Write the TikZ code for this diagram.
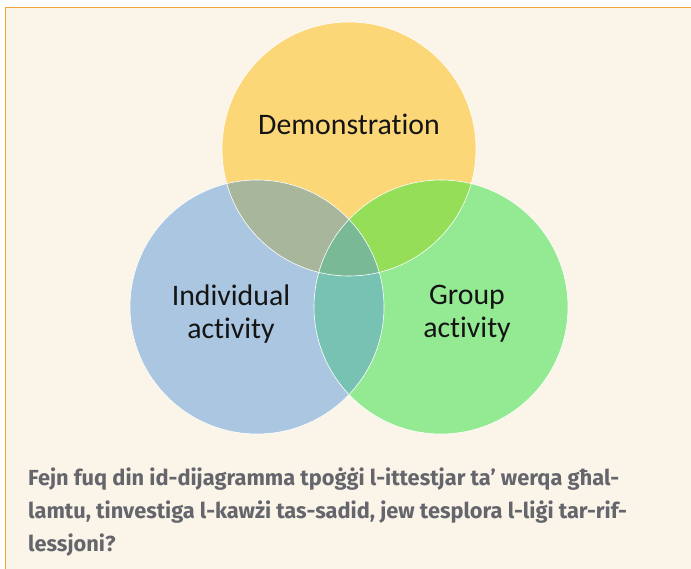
\documentclass[tikz,border=0pt]{standalone}
\usepackage{fontspec}
\setmainfont[Ligatures=NoCommon]{Carlito}
\newfontfamily\questionfont{Fira Sans}
\usetikzlibrary{positioning}
\definecolor{box_bg}{HTML}{FBF4E9}
\definecolor{box_border}{HTML}{F2A33A}
\definecolor{demo_yellow}{HTML}{FBD777}
\definecolor{indiv_blue}{HTML}{ABC6E0}
\definecolor{group_green}{HTML}{93EA93}
\definecolor{mix_di}{HTML}{A8B69C}
\definecolor{mix_dg}{HTML}{94DE58}
\definecolor{mix_ig}{HTML}{78C2B3}
\definecolor{mix_all}{HTML}{7AB995}
\definecolor{question_gray}{HTML}{64666C}
\tikzset{
  venn/.style={circle,minimum size=254pt,inner sep=0pt},
  venntext/.style={font=\fontsize{29.8}{33}\selectfont,align=center,text=black!92},
  question/.style={font=\questionfont\bfseries\fontsize{21.8}{33}\selectfont,text=question_gray,align=left,anchor=north west,inner sep=0pt},
}

\begin{document}
\begin{tikzpicture}[x=1pt,y=-1pt]
	\useasboundingbox (0,0) rectangle (691,569);
	\fill[box_bg] (5.5,7.5) rectangle (691,569);
	\draw[box_border,line width=1.5pt] (5.5,569) -- (5.5,7.5) -- (691,7.5);
	\node[venn,fill=demo_yellow] (D) at (349,149) {};
	\node[venn,fill=indiv_blue] (I) at (257,307) {};
	\node[venn,fill=group_green] (G) at (441,307) {};
	\begin{scope}
		\clip (D.center) circle (127pt);
		\fill[mix_di] (I.center) circle (127pt);
		\fill[mix_dg] (G.center) circle (127pt);
	\end{scope}
	\begin{scope}
		\clip (I.center) circle (127pt);
		\fill[mix_ig] (G.center) circle (127pt);
		\clip (D.center) circle (127pt);
		\fill[mix_all] (G.center) circle (127pt);
	\end{scope}
	\foreach \c in {D,I,G}
		\draw[white,line width=.6pt] (\c.center) circle (127pt);
	\node[venntext] (Dtext) at (349,124) {Demonstration};
	\node[venntext] (Itext) at (231,314) {Individual\\activity};
	\node[venntext] (Gtext) at (467,314) {Group\\activity};
	\node[question] (Q) at (28,468) {Fejn fuq din id-dijagramma tpoġġi l-ittestjar ta’ werqa għal-\\lamtu, tinvestiga l-kawżi tas-sadid, jew tesplora l-liġi tar-rif-\\lessjoni?};
\end{tikzpicture}
\end{document}
